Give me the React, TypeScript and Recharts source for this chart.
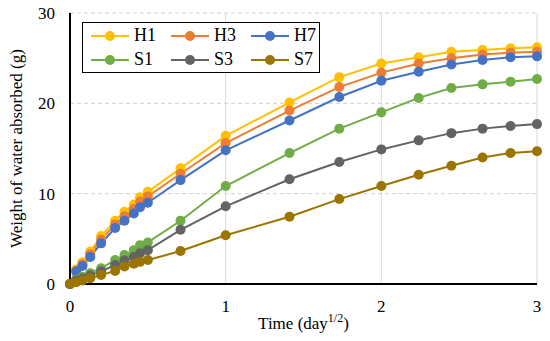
import {
  LineChart,
  Line,
  XAxis,
  YAxis,
  CartesianGrid,
} from "recharts";

const timeSqrt = [0, 0.04, 0.08, 0.13, 0.2, 0.29, 0.35, 0.41, 0.45, 0.5, 0.71, 1, 1.41, 1.73, 2, 2.24, 2.45, 2.65, 2.83, 3];
const h1 = [0, 1.6, 2.4, 3.6, 5.3, 7.0, 8.0, 8.8, 9.6, 10.2, 12.8, 16.4, 20.1, 22.9, 24.4, 25.1, 25.7, 25.9, 26.1, 26.2];
const h3 = [0, 1.5, 2.2, 3.3, 4.9, 6.6, 7.5, 8.3, 9.1, 9.7, 12.2, 15.6, 19.2, 21.8, 23.4, 24.4, 25.0, 25.4, 25.6, 25.7];
const h7 = [0, 1.35, 2.0, 3.0, 4.5, 6.2, 7.0, 7.8, 8.5, 9.0, 11.5, 14.8, 18.1, 20.7, 22.5, 23.5, 24.3, 24.8, 25.1, 25.2];
const s1 = [0, 0.45, 0.8, 1.2, 1.75, 2.65, 3.2, 3.75, 4.3, 4.6, 7.0, 10.85, 14.5, 17.2, 19.0, 20.6, 21.7, 22.1, 22.4, 22.7];
const s3 = [0, 0.35, 0.6, 0.95, 1.4, 2.1, 2.6, 3.0, 3.4, 3.75, 6.0, 8.6, 11.6, 13.5, 14.9, 15.9, 16.7, 17.2, 17.5, 17.7];
const s7 = [0, 0.2, 0.4, 0.65, 1.0, 1.45, 1.95, 2.25, 2.45, 2.65, 3.65, 5.4, 7.45, 9.4, 10.85, 12.1, 13.1, 14.0, 14.5, 14.7];

const xTicks = [0, 1, 2, 3];
const yTicks = [0, 10, 20, 30];

const series = [
  { key: "H1", values: h1, color: "#FFC000" },
  { key: "H3", values: h3, color: "#ED7D31" },
  { key: "H7", values: h7, color: "#4472C4" },
  { key: "S1", values: s1, color: "#70AD47" },
  { key: "S3", values: s3, color: "#636363" },
  { key: "S7", values: s7, color: "#9C7400" },
];

const data = timeSqrt.map((t, i) => {
  const row: Record<string, number> = { t };
  series.forEach((s) => (row[s.key] = s.values[i]));
  return row;
});

const FONT = "'Liberation Serif', 'Times New Roman', serif";

function LegendBox() {
  return (
    <div
      style={{
        position: "absolute",
        left: 82,
        top: 22,
        border: "1.5px solid #000",
        background: "#fff",
        width: 238,
        height: 51,
        boxSizing: "border-box",
        display: "grid",
        gridTemplateColumns: "80px 80px 76px",
        alignContent: "center",
        padding: "0 0 0 8px",
        fontFamily: FONT,
        fontSize: 18,
        color: "#000",
      }}
    >
      {series.map((s) => (
        <div key={s.key} style={{ display: "flex", alignItems: "center", height: 24 }}>
          <svg width={40} height={12} style={{ marginRight: 3 }}>
            <line x1={0} y1={6} x2={38} y2={6} stroke={s.color} strokeWidth={2} />
            <circle cx={19} cy={6} r={5} fill={s.color} />
          </svg>
          <span>{s.key}</span>
        </div>
      ))}
    </div>
  );
}

function XLabel({ viewBox }: any) {
  const cx = viewBox.x + viewBox.width / 2;
  return (
    <text x={cx} y={329} textAnchor="middle" fontFamily={FONT} fontSize={17} fill="#000">
      <tspan>Time (day</tspan>
      <tspan fontSize={12} dy={-7}>1/2</tspan>
      <tspan dy={7}>)</tspan>
    </text>
  );
}

export default function App() {
  return (
    <div style={{ position: "absolute", left: 0, top: 0, width: 550, height: 341, background: "#fff" }}>
      <LineChart
        width={550}
        height={341}
        data={data}
        margin={{ top: 13, right: 13, bottom: 0, left: 0 }}
      >
        <CartesianGrid horizontal vertical={false} stroke="#d0d0d0" strokeDasharray="4 3" />
        <CartesianGrid horizontal={false} vertical stroke="#d9d9d9" />
        <XAxis
          dataKey="t"
          type="number"
          domain={[0, 3]}
          ticks={xTicks}
          height={57}
          axisLine={{ stroke: "#000", strokeWidth: 2 }}
          tickLine={false}
          tickSize={6}
          tickMargin={10}
          tick={{ fill: "#000", fontSize: 17, fontFamily: FONT }}
          label={<XLabel />}
        />
        <XAxis
          xAxisId="top"
          orientation="top"
          dataKey="t"
          type="number"
          domain={[0, 3]}
          height={0}
          tick={false}
          tickLine={false}
          axisLine={{ stroke: "#000", strokeWidth: 2 }}
        />
        <YAxis
          type="number"
          domain={[0, 30]}
          ticks={yTicks}
          width={70}
          axisLine={{ stroke: "#000", strokeWidth: 2 }}
          tickLine={false}
          tickSize={6}
          tickMargin={9}
          tick={{ fill: "#000", fontSize: 17, fontFamily: FONT }}
          label={{
            value: "Weight of water absorbed (g)",
            angle: -90,
            position: "insideLeft",
            dx: 11,
            style: { textAnchor: "middle", fill: "#000", fontSize: 17, fontFamily: FONT },
          }}
        />
        <YAxis
          yAxisId="right"
          orientation="right"
          type="number"
          domain={[0, 30]}
          width={0}
          tick={false}
          tickLine={false}
          axisLine={{ stroke: "#000", strokeWidth: 2 }}
        />
        {series.map((s) => (
          <Line
            key={s.key}
            dataKey={s.key}
            stroke={s.color}
            strokeWidth={2}
            dot={{ r: 5, fill: s.color, stroke: s.color, strokeWidth: 0 }}
            isAnimationActive={false}
          />
        ))}
      </LineChart>
      <LegendBox />
    </div>
  );
}
